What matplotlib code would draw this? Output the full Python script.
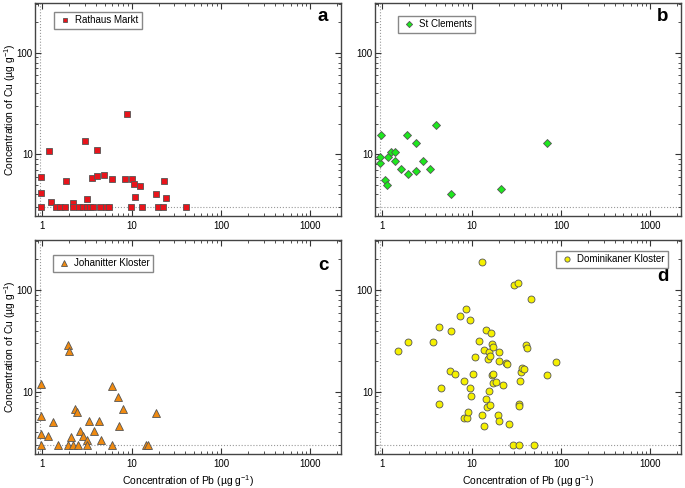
import numpy as np
import matplotlib
matplotlib.use("Agg")
import matplotlib.pyplot as plt
from matplotlib.ticker import LogLocator, NullFormatter, FixedLocator, FixedFormatter

plt.rcParams['font.family'] = ['Liberation Sans', 'DejaVu Sans']
plt.rcParams['mathtext.default'] = 'regular'

# Pb (x) and Cu (y) concentrations, ug/g
rathaus_pb = [0.97, 0.97, 0.97, 1.19, 1.25, 1.42, 1.58, 1.83, 1.8, 2.19, 2.19, 2.6, 2.89,
              3.04, 3.15, 3.2, 3.4, 3.6, 3.7, 4.15, 4.15, 4.45, 4.9, 5.2, 5.56, 6.0, 8.5,
              8.95, 9.9, 10.2, 10.5, 10.9, 12.5, 13.2, 18.6, 19.6, 22.7, 23.1, 24.0, 41.1]
rathaus_cu = [6.0, 4.1, 3.0, 10.7, 3.4, 3.0, 3.0, 5.4, 3.0, 3.3, 3.0, 3.0, 3.0,
              13.4, 3.6, 3.0, 3.0, 5.8, 3.0, 11.0, 6.1, 3.0, 6.2, 3.0, 3.0, 5.65, 5.7,
              25.1, 3.0, 5.7, 5.1, 3.78, 4.87, 3.0, 4.08, 3.0, 3.0, 5.4, 3.67, 3.0]

clements_pb = [0.95, 0.95, 0.98, 1.07, 1.14, 1.16, 1.24, 1.38, 1.40, 1.61, 1.89, 1.96,
               2.37, 2.41, 2.84, 3.43, 3.97, 5.81, 21.5, 69.5]
clements_cu = [8.14, 9.4, 15.3, 5.57, 4.97, 9.4, 10.5, 8.5, 10.4, 7.05, 15.3, 6.34,
               12.85, 6.84, 8.5, 7.16, 19.5, 4.08, 4.54, 12.85]

johan_pb = [0.97, 0.97, 0.97, 0.97, 1.16, 1.32, 1.49, 1.94, 2.01, 1.94, 2.08, 2.23, 2.35,
            2.45, 2.54, 2.65, 2.89, 3.2, 3.15, 3.3, 3.77, 4.37, 4.6, 6.0, 6.05, 7.08,
            7.27, 7.98, 14.6, 15.4, 18.9]
johan_cu = [12.0, 5.85, 3.82, 3.0, 3.7, 5.1, 3.0, 28.6, 25.2, 3.0, 3.6, 3.0, 6.85,
            6.4, 3.0, 4.1, 3.7, 3.4, 3.0, 5.2, 4.1, 5.2, 3.4, 3.0, 11.3, 8.9,
            4.58, 6.85, 3.0, 3.0, 6.25]

domin_pb = [1.5, 1.94, 3.74, 4.3, 4.3, 4.6, 5.76, 5.9, 6.5, 7.4, 8.3, 8.3, 8.55, 8.85,
            9.2, 9.6, 9.7, 9.9, 10.3, 11.0, 12.0, 13.1, 13.1, 13.6, 13.9, 14.5, 14.6,
            15.0, 15.3, 15.6, 15.8, 16.0, 16.0, 16.6, 16.7, 17.0, 17.2, 17.2, 17.5,
            18.9, 19.8, 20.1, 20.3, 20.4, 22.5, 24.0, 24.9, 26.1, 29.4, 30.1, 32.9,
            33.7, 33.7, 34.0, 34.9, 35.5, 36.2, 39.0, 41.1, 41.5, 45.6, 49.3, 69.5, 88.7]
domin_cu = [25.0, 30.7, 31.1, 43.5, 7.6, 11.0, 16.0, 39.4, 15.0, 55.5, 5.55, 12.85, 65.5,
            5.5, 6.4, 51.0, 11.0, 9.2, 15.0, 22.1, 31.8, 190.0, 5.97, 4.58, 25.7, 8.5,
            40.6, 7.1, 21.2, 10.2, 24.8, 22.5, 7.5, 37.9, 14.6, 29.5, 27.8, 12.1, 15.0,
            12.4, 5.97, 19.9, 24.4, 5.17, 11.8, 19.3, 18.6, 4.8, 3.0, 111.0, 118.0,
            3.0, 7.6, 7.3, 12.85, 15.5, 17.0, 16.8, 28.6, 26.8, 82.0, 3.0, 14.6, 19.8]

pb_limit = 0.95
cu_limit = 3.0

fig = plt.figure(figsize=(6.85, 4.88), dpi=100)

# rect, x, y, marker, size, colour, name, letter, legend loc, legend anchor, letter pos
panels = [
    ([35/685, 1-216/488, 306/685, 213/488], rathaus_pb, rathaus_cu, 's', 4.6, '#e8141b',
     'Rathaus Markt', 'a', 'upper left', (0.062, 0.958), (0.958, 0.915)),
    ([375/685, 1-216/488, 306/685, 213/488], clements_pb, clements_cu, 'D', 4.2, '#1ee81e',
     'St Clements', 'b', 'upper left', (0.075, 0.939), (0.958, 0.915)),
    ([35/685, 1-454/488, 306/685, 214/488], johan_pb, johan_cu, '^', 5.2, '#f08a10',
     'Johanitter Kloster', 'c', 'upper left', (0.060, 0.930), (0.958, 0.86)),
    ([375/685, 1-454/488, 306/685, 214/488], domin_pb, domin_cu, 'o', 5.0, '#f5f000',
     'Dominikaner Kloster', 'd', 'upper right', (0.958, 0.949), (0.958, 0.808)),
]

for rect, x, y, mk, ms, col, name, letter, loc, anchor, lpos in panels:
    ax = fig.add_axes(rect)
    ax.set_xscale('log')
    ax.set_yscale('log')
    ax.set_xlim(0.83, 2200)
    ax.set_ylim(2.45, 310)
    ax.axhline(cu_limit, color='#999999', ls=':', lw=0.8, zorder=1)
    ax.axvline(pb_limit, color='#999999', ls=':', lw=0.8, zorder=1)
    ax.plot(x, y, ls='none', marker=mk, ms=ms, mfc=col, mec='#555555', mew=0.6,
            label=name, zorder=3)

    ax.xaxis.set_major_locator(FixedLocator([1, 10, 100, 1000]))
    ax.xaxis.set_major_formatter(FixedFormatter(['1', '10', '100', '1000']))
    ax.yaxis.set_major_locator(FixedLocator([10, 100]))
    ax.yaxis.set_major_formatter(FixedFormatter(['10', '100']))
    ax.xaxis.set_minor_locator(LogLocator(base=10, subs=np.arange(2, 10)))
    ax.yaxis.set_minor_locator(LogLocator(base=10, subs=np.arange(2, 10)))
    ax.xaxis.set_minor_formatter(NullFormatter())
    ax.yaxis.set_minor_formatter(NullFormatter())
    ax.tick_params(which='both', direction='in', top=True, right=True, labelsize=7,
                   color='#333333')
    ax.tick_params(which='major', length=4, width=0.8)
    ax.tick_params(axis='x', which='major', pad=3.5)
    ax.tick_params(axis='y', which='major', pad=1.5)
    ax.tick_params(which='minor', length=2, width=0.6)
    for s in ax.spines.values():
        s.set_color('#444444')
        s.set_linewidth(1.0)

    if letter in ('a', 'c'):
        ax.set_ylabel('Concentration of Cu (µg g$^{-1}$)', fontsize=7.5)
        ax.yaxis.set_label_coords(-0.056, 0.5)
    if letter in ('c', 'd'):
        ax.set_xlabel('Concentration of Pb (µg g$^{-1}$)', fontsize=7.5)
        ax.xaxis.set_label_coords(0.5, -0.088)

    ax.legend(loc=loc, bbox_to_anchor=anchor, fontsize=7,
              fancybox=False, edgecolor='#888888', framealpha=1,
              handletextpad=0.3, handlelength=1.5, borderpad=0.35, markerscale=0.75,
              borderaxespad=0)
    ax.text(lpos[0], lpos[1], letter, transform=ax.transAxes, fontsize=13.5,
            fontweight='bold', ha='right', va='baseline')

fig.savefig('out.png', dpi=100)
